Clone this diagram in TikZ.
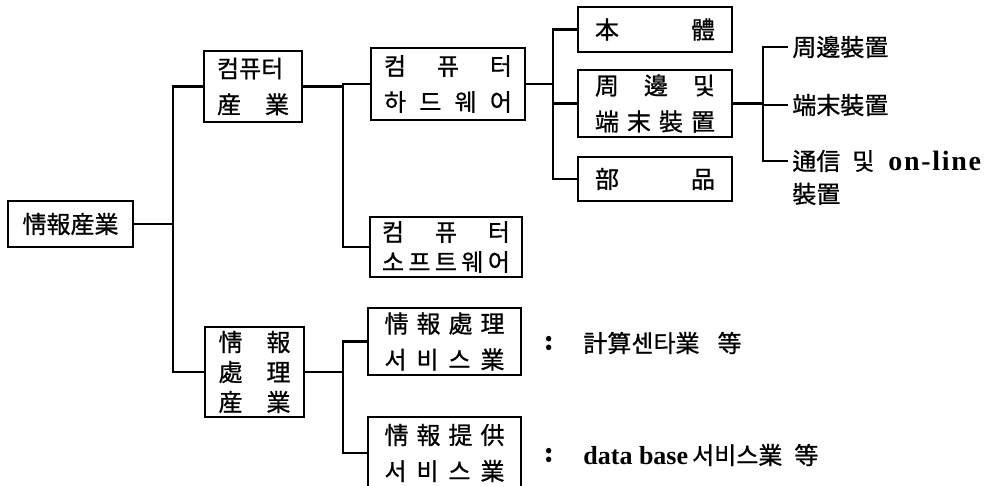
\documentclass[tikz,border=0pt]{standalone}
\usepackage{fontspec}
\setmainfont[FakeBold=0.8]{Noto Sans CJK KR}
\newfontfamily\latinserif[LetterSpace=6]{Liberation Serif}
\newfontfamily\dataserif{Liberation Serif}
\usepackage{tikz}
\usetikzlibrary{positioning}
\tikzset{
  box/.style={draw, line width=1.3pt, inner sep=0pt, align=center,
    font=\fontsize{12}{18}\selectfont},
  link/.style={line width=1.1pt},
  leaf/.style={anchor=west, inner sep=2pt, font=\fontsize{12}{14}\selectfont},
}
\newcommand{\spread}[2]{\hbox to #1{#2}}

\begin{document}
\begin{tikzpicture}[x=0.5pt,y=-0.5pt]
		\useasboundingbox (0,0) rectangle (987,486);

		% Boxes
		\node[box, minimum width=62.5pt, minimum height=23pt] (info) at (70.5,224) {情報産業};
		\node[box, minimum width=49pt, minimum height=35.5pt] (comp) at (253,86.5)
		  {\spread{36pt}{컴퓨터}\\ \spread{36pt}{産\hfill 業}};
		\node[box, minimum width=77pt, minimum height=36pt] (hw) at (448,84)
		  {\spread{64pt}{컴\hfill 퓨\hfill 터}\\ \spread{64pt}{하\hfill 드\hfill 웨\hfill 어}};
		\node[box, minimum width=76pt, minimum height=30pt] (sw) at (446,247)
		  {\spread{64pt}{컴\hfill 퓨\hfill 터}\\[-3pt] \spread{64pt}{소\hfill 프\hfill 트\hfill 웨\hfill 어}};
		\node[box, minimum width=77pt, minimum height=22.5pt] (body) at (655,29.5)
		  {\spread{60pt}{本\hfill 體}};
		\node[box, minimum width=77pt, minimum height=33.5pt] (peri) at (655,103.5)
		  {\spread{60pt}{周\hfill 邊\hfill 및}\\ \spread{60pt}{端\hfill 末\hfill 裝\hfill 置}};
		\node[box, minimum width=77pt, minimum height=22pt] (part) at (655,179)
		  {\spread{60pt}{部\hfill 品}};
		\node[box, minimum width=49.5pt, minimum height=45pt, font=\fontsize{12}{15}\selectfont] (proc) at (254.5,372)
		  {\spread{36pt}{情\hfill 報}\\ \spread{36pt}{處\hfill 理}\\ \spread{36pt}{産\hfill 業}};
		\node[box, minimum width=76.5pt, minimum height=33.5pt] (svc) at (444.5,341.5)
		  {\spread{60pt}{情\hfill 報\hfill 處\hfill 理}\\ \spread{60pt}{서\hfill 비\hfill 스\hfill 業}};
		\node[box, minimum width=76.5pt, minimum height=36pt] (prov) at (444.5,453)
		  {\spread{60pt}{情\hfill 報\hfill 提\hfill 供}\\ \spread{60pt}{서\hfill 비\hfill 스\hfill 業}};

		% Leaves of the peripheral box
		\node[leaf] (l1) at (788,47) {周邊裝置};
		\node[leaf] (l2) at (788,105) {端末裝置};
		\node[leaf] (l3) at (788,161) {通信\hspace{6pt}및\hspace{7pt}{\latinserif\bfseries\fontsize{14}{14}\selectfont on-line}};
		\node[leaf, below=1pt of l3.south west, anchor=north west] (l3b) {裝置};

		% Notes
		\node[leaf, font=\bfseries\fontsize{12}{14}\selectfont] (c1) at (540,343) {:};
		\node[leaf] (t1) at (579,343) {計算센타業\hspace{9pt}等};
		\node[leaf, font=\bfseries\fontsize{12}{14}\selectfont] (c2) at (540,455) {:};
		\node[leaf] (t2) at (579,455) {{\dataserif\bfseries\fontsize{13}{14}\selectfont data base}\hspace{2pt}서비스業\hspace{6pt}等};

		% Connectors
		\draw[link] (info.east) -- ++(39,0) |- (comp.west);
		\draw[link] (info.east) -- ++(39,0) |- (proc.west);
		\draw[link] (comp.east) -- ++(40,0) |- (hw.west);
		\draw[link] (comp.east) -- ++(40,0) |- (sw.west);
		\foreach \n in {body,peri,part}
		  \draw[link] (hw.east) -- ++(27,0) |- (\n.west);
		\foreach \n in {l1,l2,l3}
		  \draw[link] (peri.east) -- ++(30,0) |- (\n.west);
		\draw[link] (proc.east) -- ++(38,0) |- (svc.west);
		\draw[link] (proc.east) -- ++(38,0) |- (prov.west);
	\end{tikzpicture}
\end{document}
